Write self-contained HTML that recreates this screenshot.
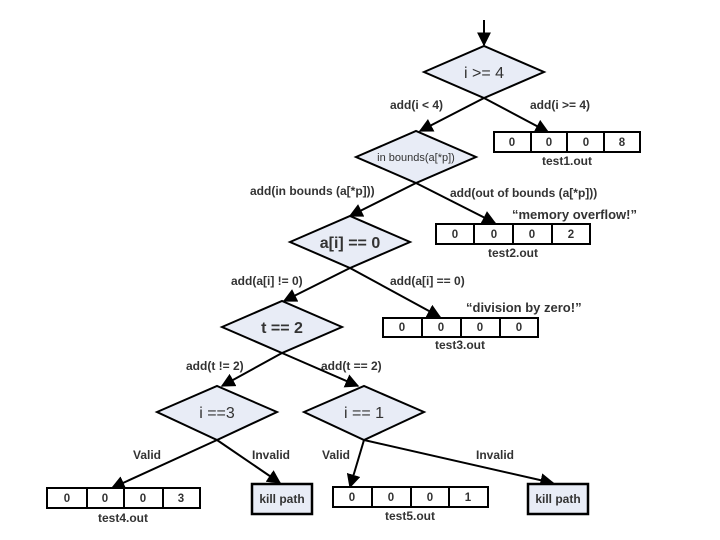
<!DOCTYPE html>
<html><head><meta charset="utf-8"><style>
html,body{margin:0;padding:0;background:#fff}
svg{display:block}
text{font-family:"Liberation Sans",sans-serif;font-weight:bold;fill:#333}
.l{font-size:12px}
.d{font-size:16px;fill:#333;font-weight:normal}
.b{font-size:11.5px;fill:#222}
</style></head><body>
<svg width="720" height="540" viewBox="0 0 720 540">
<defs><marker id="a" viewBox="0 0 10 10" refX="9" refY="5" markerWidth="7" markerHeight="7" orient="auto"><path d="M0,0 L10,5 L0,10 z" fill="#000"/></marker></defs>
<g stroke="#000" stroke-width="2" fill="none" marker-end="url(#a)">
<line x1="484" y1="20" x2="484" y2="45"/>
<line x1="484" y1="98" x2="420" y2="131"/>
<line x1="484" y1="98" x2="548" y2="132"/>
<line x1="416" y1="183" x2="350" y2="216"/>
<line x1="416" y1="183" x2="495" y2="223"/>
<line x1="350" y1="268" x2="284" y2="301"/>
<line x1="350" y1="268" x2="440" y2="317"/>
<line x1="282" y1="353" x2="222" y2="386"/>
<line x1="282" y1="353" x2="358" y2="386"/>
<line x1="217" y1="440" x2="112" y2="488"/>
<line x1="217" y1="440" x2="280" y2="483"/>
<line x1="364" y1="440" x2="350" y2="487"/>
<line x1="364" y1="440" x2="553" y2="483"/>
</g>
<g stroke="#000" stroke-width="2" fill="#e8ecf6">
<polygon points="424,72 484,46 544,72 484,98"/>
<polygon points="356,157 416,131 476,157 416,183"/>
<polygon points="290,242 350,216 410,242 350,268"/>
<polygon points="222,327 282,301 342,327 282,353"/>
<polygon points="157,412 217,386 277,412 217,440"/>
<polygon points="304,412 364,386 424,412 364,440"/>
<rect x="252" y="484" width="60" height="30" stroke-width="2.5"/>
<rect x="528" y="484" width="60" height="30" stroke-width="2.5"/>
</g>
<g stroke="#000" stroke-width="2" fill="#fff">
<rect x="494" y="132" width="146" height="20"/>
<rect x="436" y="224" width="154" height="20"/>
<rect x="383" y="318" width="155" height="19"/>
<rect x="47" y="488" width="153" height="20"/>
<rect x="333" y="487" width="155" height="20"/>
</g>
<g stroke="#000" stroke-width="2">
<line x1="531" y1="132" x2="531" y2="152"/><line x1="567" y1="132" x2="567" y2="152"/><line x1="604" y1="132" x2="604" y2="152"/>
<line x1="474" y1="224" x2="474" y2="244"/><line x1="513" y1="224" x2="513" y2="244"/><line x1="552" y1="224" x2="552" y2="244"/>
<line x1="422" y1="318" x2="422" y2="337"/><line x1="461" y1="318" x2="461" y2="337"/><line x1="500" y1="318" x2="500" y2="337"/>
<line x1="87" y1="488" x2="87" y2="508"/><line x1="124" y1="488" x2="124" y2="508"/><line x1="163" y1="488" x2="163" y2="508"/>
<line x1="372" y1="487" x2="372" y2="507"/><line x1="411" y1="487" x2="411" y2="507"/><line x1="449" y1="487" x2="449" y2="507"/>
</g>
<g text-anchor="middle" class="b">
<text x="512" y="146">0</text><text x="549" y="146">0</text><text x="586" y="146">0</text><text x="622" y="146">8</text>
<text x="455" y="238">0</text><text x="494" y="238">0</text><text x="532" y="238">0</text><text x="571" y="238">2</text>
<text x="402" y="331">0</text><text x="441" y="331">0</text><text x="480" y="331">0</text><text x="519" y="331">0</text>
<text x="67" y="502">0</text><text x="105" y="502">0</text><text x="143" y="502">0</text><text x="181" y="502">3</text>
<text x="352" y="501">0</text><text x="391" y="501">0</text><text x="430" y="501">0</text><text x="468" y="501">1</text>
<text x="567" y="165" style="font-size:12px">test1.out</text>
<text x="513" y="257" style="font-size:12px">test2.out</text>
<text x="460" y="349" style="font-size:12px">test3.out</text>
<text x="123" y="522" style="font-size:12px">test4.out</text>
<text x="410" y="520" style="font-size:12px">test5.out</text>
<text x="282" y="503" style="font-size:12px">kill path</text>
<text x="558" y="503" style="font-size:12px">kill path</text>
</g>
<g text-anchor="middle">
<text class="d" x="484" y="78">i &gt;= 4</text>
<text x="416" y="161" style="font-size:11px;font-weight:normal">in bounds(a[*p])</text>
<text class="d" x="350" y="248" style="font-weight:bold">a[i] == 0</text>
<text class="d" x="282" y="333" style="font-weight:bold">t == 2</text>
<text class="d" x="217" y="418">i ==3</text>
<text class="d" x="364" y="418">i == 1</text>
</g>
<g class="l">
<text x="390" y="109">add(i &lt; 4)</text>
<text x="530" y="109">add(i &gt;= 4)</text>
<text x="250" y="195">add(in bounds (a[*p]))</text>
<text x="450" y="197">add(out of bounds (a[*p]))</text>
<text x="512" y="219" style="font-size:13px">“memory overflow!”</text>
<text x="231" y="285">add(a[i] != 0)</text>
<text x="390" y="285">add(a[i] == 0)</text>
<text x="466" y="312" style="font-size:13px">“division by zero!”</text>
<text x="186" y="370">add(t != 2)</text>
<text x="321" y="370">add(t == 2)</text>
<text x="133" y="459">Valid</text>
<text x="252" y="459">Invalid</text>
<text x="322" y="459">Valid</text>
<text x="476" y="459">Invalid</text>
</g>
</svg>
</body></html>
